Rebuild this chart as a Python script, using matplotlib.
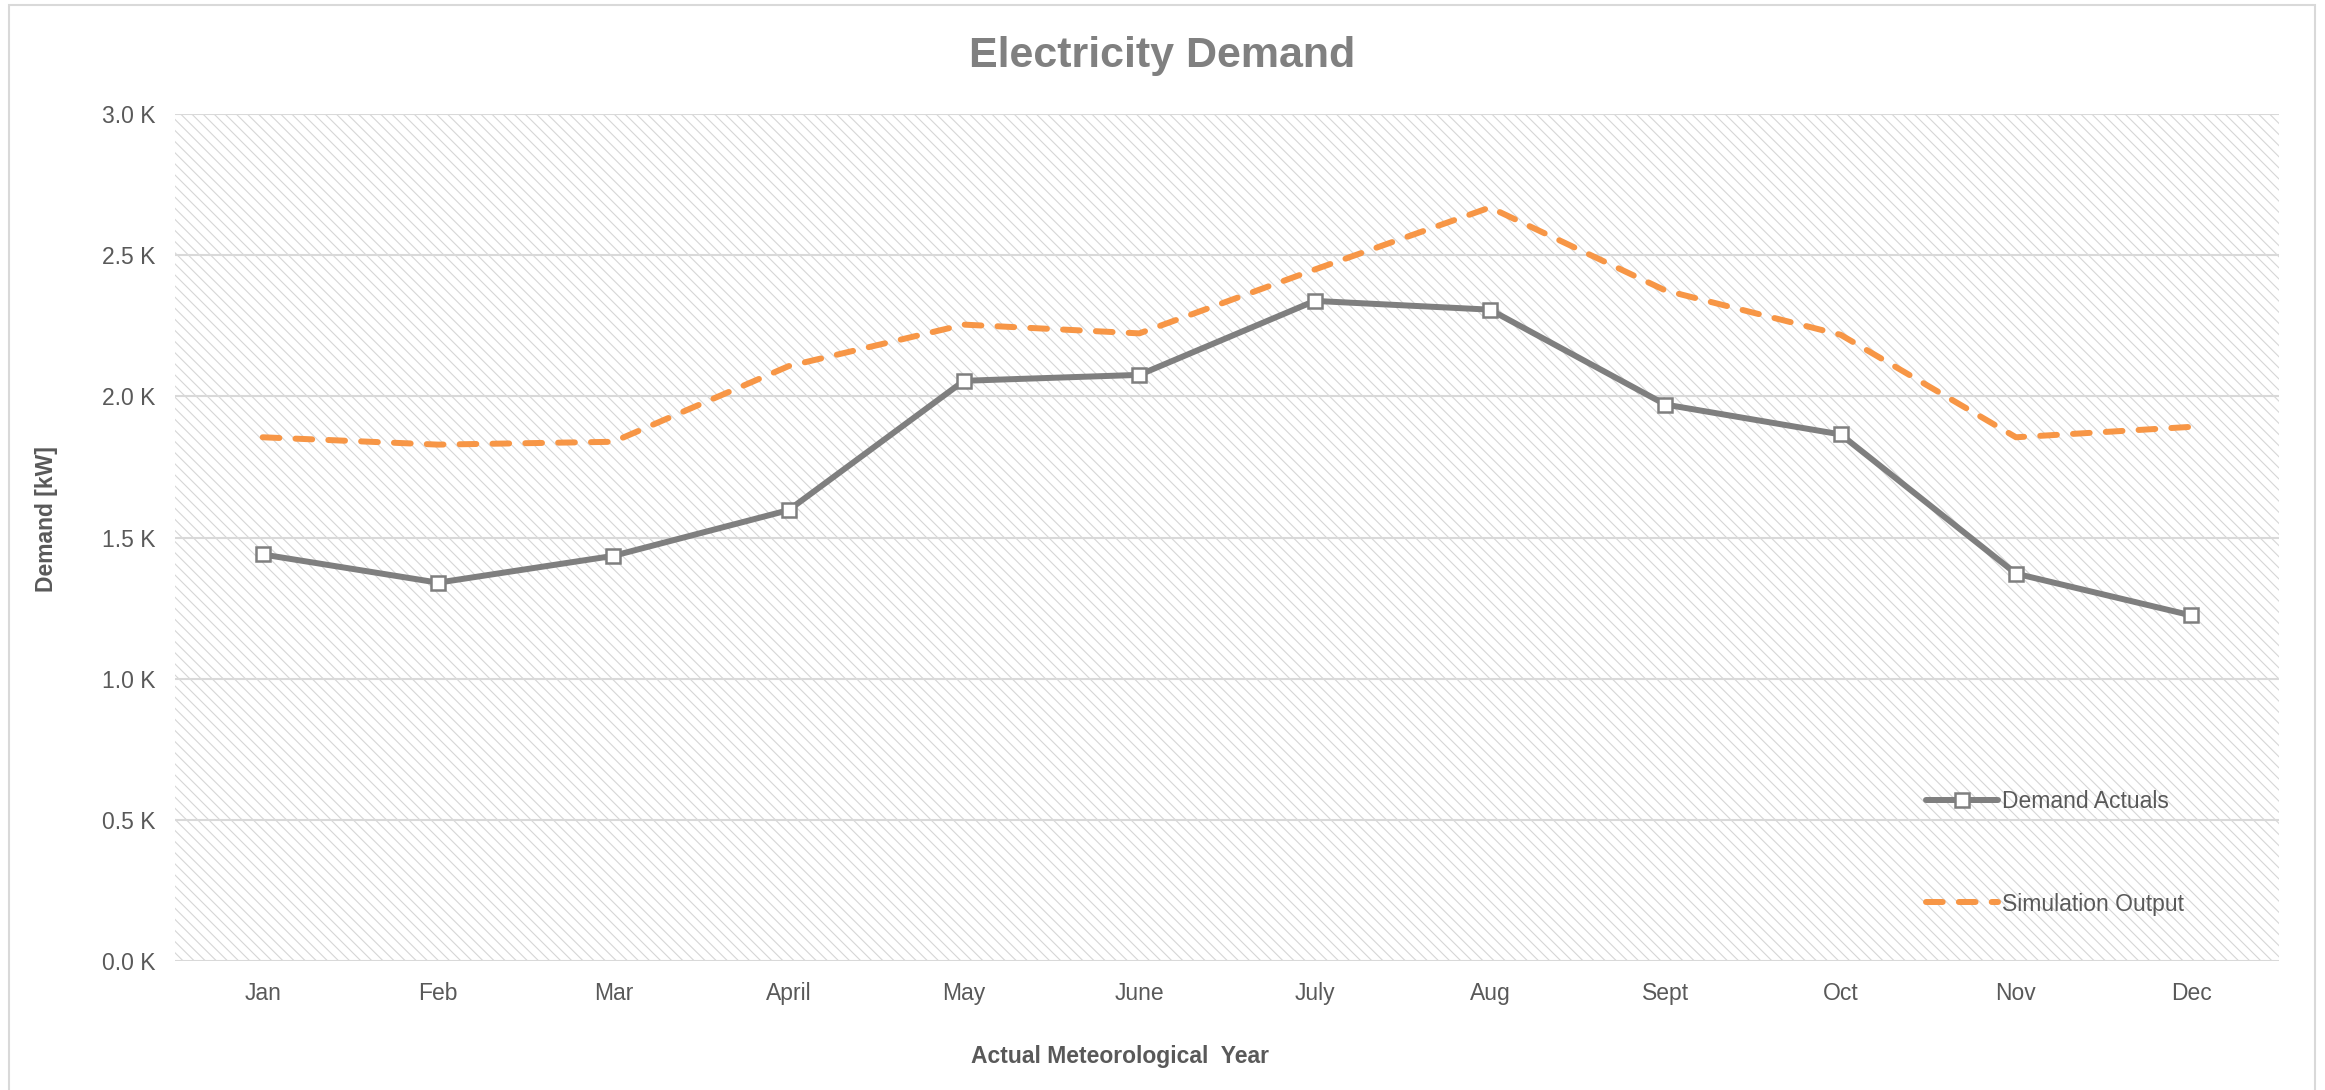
import numpy as np
import matplotlib
matplotlib.use('Agg')
import matplotlib.pyplot as plt
from matplotlib.patches import Rectangle
from matplotlib.ticker import FuncFormatter

months = ['Jan', 'Feb', 'Mar', 'April', 'May', 'June', 'July', 'Aug', 'Sept', 'Oct', 'Nov', 'Dec']
demand_actuals = [1440, 1340, 1435, 1597, 2055, 2076, 2338, 2307, 1971, 1865, 1372, 1224]
simulation_output = [1855, 1829, 1839, 2107, 2254, 2223, 2449, 2669, 2375, 2218, 1855, 1892]
y_ticks = [0, 500, 1000, 1500, 2000, 2500, 3000]

plt.rcParams['font.family'] = ['Liberation Sans', 'DejaVu Sans']
plt.rcParams['hatch.linewidth'] = 0.8

W, H = 2325, 1090
fig = plt.figure(figsize=(W / 100, H / 100), dpi=100)
fig.patch.set_facecolor('white')

# outer chart frame
fig.patches.append(Rectangle((9 / W, -0.02), (2315 - 9) / W, 1.02 - 5 / H,
                             transform=fig.transFigure, fill=False,
                             edgecolor='#d9d9d9', linewidth=1.5))

ax = fig.add_axes([175 / W, 1 - 961 / H, (2279 - 175) / W, (961 - 114) / H])
ax.set_facecolor('white')

# hatched plot area
ax.add_patch(Rectangle((0, 0), 1, 1, transform=ax.transAxes, facecolor='white',
                       edgecolor='#d6d6d6', linewidth=0, hatch='\\\\\\', zorder=0))

x = np.arange(len(months))
ax.plot(x, demand_actuals, color='#7f7f7f', linewidth=4.3, marker='s', markersize=9.5,
        markerfacecolor='white', markeredgecolor='#7f7f7f', markeredgewidth=1.8,
        solid_joinstyle='round', solid_capstyle='round', label='Demand Actuals', zorder=3)
ax.plot(x, simulation_output, color='#f79646', linewidth=4.3, dashes=(2.8, 2.7),
        dash_capstyle='round', dash_joinstyle='round', label='Simulation Output', zorder=2)

ax.set_xlim(-0.5, len(months) - 0.5)
ax.set_ylim(0, 3000)
ax.set_xticks(x)
ax.set_xticklabels(months)
ax.set_yticks(y_ticks)
ax.yaxis.set_major_formatter(FuncFormatter(lambda v, p: f'{v / 1000:.1f} K'))
ax.tick_params(axis='both', length=0, labelsize=16.5, labelcolor='#595959', pad=14)
ax.tick_params(axis='x', pad=15)

ax.set_axisbelow(True)
ax.grid(axis='y', color='#d9d9d9', linewidth=1.5)
ax.grid(axis='x', visible=False)
for s in ax.spines.values():
    s.set_visible(False)

leg = ax.legend(loc='upper left', bbox_to_anchor=(1915 / W, 1 - 779 / H),
                bbox_transform=fig.transFigure, frameon=False, fontsize=16.5,
                handlelength=3.1, handletextpad=0.2, labelspacing=3.45,
                numpoints=1, borderpad=0)
for t in leg.get_texts():
    t.set_color('#595959')

fig.text(1162 / W, 1 - 56 / H, 'Electricity Demand', ha='center', va='center',
         fontsize=31, fontweight='bold', color='#808080')
fig.text(1120 / W, 1 - 1057 / H, 'Actual Meteorological  Year', ha='center', va='center',
         fontsize=16.5, fontweight='bold', color='#595959')
fig.text(46 / W, 1 - 519 / H, 'Demand [kW]', ha='center', va='center', rotation=90,
         fontsize=16.5, fontweight='bold', color='#595959')

fig.savefig('out.png', dpi=100)
